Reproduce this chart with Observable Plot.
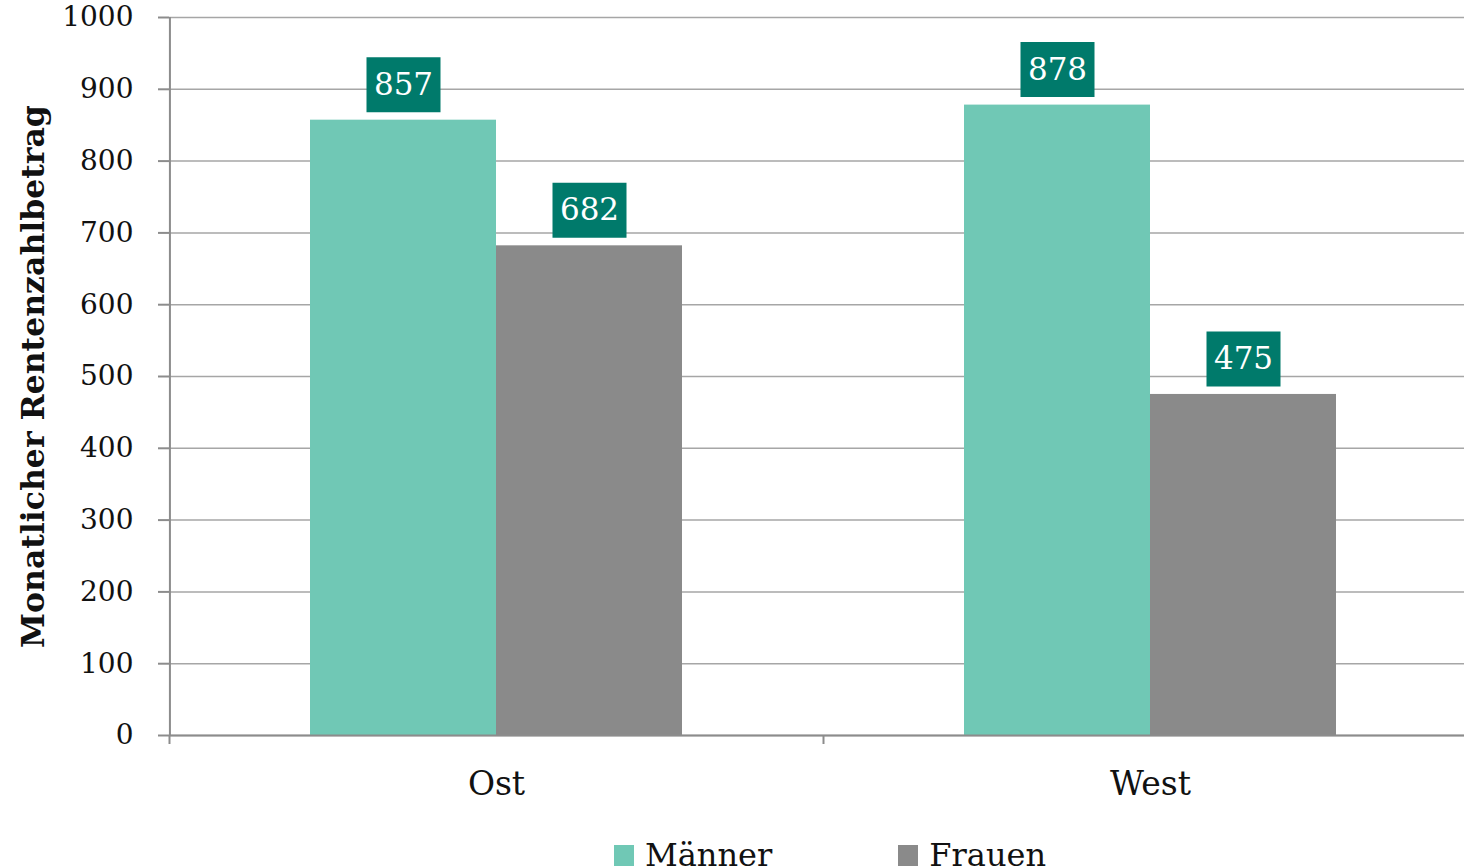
<!DOCTYPE html>
<html>
<head>
<meta charset="utf-8">
<script src="https://cdn.jsdelivr.net/npm/d3@7"></script>
<script src="https://cdn.jsdelivr.net/npm/@observablehq/plot@0.6"></script>
<style>
  html, body { margin: 0; padding: 0; background: #fff; overflow: hidden; }
  #chart svg { display: block; max-width: none; }
  .legend { height: 53px; overflow: hidden; padding-left: 614px; padding-top: 21px; box-sizing: border-box;
            font-family: "DejaVu Serif", serif; font-size: 32px; line-height: 38px; color: #111; white-space: nowrap; }
  .legend .item { display: inline-block; }
  .legend .item + .item { margin-left: 126px; }
  .legend .sw { display: inline-block; width: 20px; height: 21px; margin-right: 11px; vertical-align: baseline; }
</style>
</head>
<body>
<div id="chart"></div>
<div class="legend" id="legend"></div>
<script>
const categories = ["Ost", "West"];
const series = ["Männer", "Frauen"];
const maenner = [857, 878];
const frauen = [682, 475];
const yTicks = [0, 100, 200, 300, 400, 500, 600, 700, 800, 900, 1000];
const colors = ["#70c8b5", "#8a8a8a"];
const labelBoxColor = "#007a6b";
const yTitle = "Monatlicher Rentenzahlbetrag";

const data = categories.flatMap((c, i) => [
  {cat: c, s: series[0], v: maenner[i]},
  {cat: c, s: series[1], v: frauen[i]}
]);

const W = 1464, H = 815, mL = 169, mR = -13, mT = 17, mB = 80;
const padOuter = 0.75;
const facetW = (W - mL - mR) / categories.length;
const step = facetW / (series.length + 2 * padOuter);
// offset from the first band's centre back to the facet's left edge
const edgeOffset = -(padOuter + 0.5) * step;

const boxSymbol = {
  draw(ctx) { ctx.moveTo(-37, -27.5); ctx.lineTo(37, -27.5); ctx.lineTo(37, 27.5); ctx.lineTo(-37, 27.5); ctx.closePath(); }
};

const plot = Plot.plot({
  width: W, height: H,
  marginTop: mT, marginBottom: mB, marginLeft: mL, marginRight: mR,
  style: {fontFamily: "DejaVu Serif, serif", background: "white", color: "#111"},
  fx: {domain: categories, padding: 0, label: null},
  x: {domain: series, paddingInner: 0, paddingOuter: padOuter, axis: null},
  y: {domain: [0, 1000]},
  color: {domain: series, range: colors},
  marks: [
    Plot.gridY(yTicks, {stroke: "#a6a6a6", strokeOpacity: 1, strokeWidth: 1.5}),
    Plot.barY(data, {fx: "cat", x: "s", y: "v", fill: "s"}),
    Plot.ruleY([0], {stroke: "#8c8c8c", strokeWidth: 2}),
    Plot.ruleX([{cat: categories[0], s: series[0]}], {fx: "cat", x: "s", y1: () => 0, y2: () => 1000, dx: edgeOffset, stroke: "#8c8c8c", strokeWidth: 2}),
    Plot.axisY(yTicks, {tickSize: 11, tickPadding: 25, fontSize: 28, stroke: "#8c8c8c", strokeWidth: 2, fill: "#111", label: null, tickFormat: d => String(d)}),
    Plot.axisFx({anchor: "bottom", tickSize: 0, tickPadding: 36, fontSize: 33, label: null, fill: "#111"}),
    Plot.axisFx({anchor: "bottom", tickSize: 9, tickFormat: () => "", label: null, stroke: "#8c8c8c", strokeWidth: 2, dx: -facetW / 2}),
    Plot.dot(data, {fx: "cat", x: "s", y: "v", symbol: boxSymbol, fill: labelBoxColor, stroke: null, r: 10, dy: -35.5}),
    Plot.text(data, {fx: "cat", x: "s", y: "v", text: d => String(d.v), dy: -35.5, fill: "white", fontSize: 31}),
    Plot.text([{cat: categories[0], t: yTitle}], {fx: "cat", text: "t", frameAnchor: "left", textAnchor: "middle", rotate: -90, dx: -136, fontWeight: "bold", fontSize: 31.5, fill: "#111"})
  ]
});
document.getElementById("chart").appendChild(plot);

const legend = document.getElementById("legend");
series.forEach((s, i) => {
  const item = document.createElement("span");
  item.className = "item";
  const sw = document.createElement("span");
  sw.className = "sw";
  sw.style.background = colors[i];
  item.appendChild(sw);
  item.appendChild(document.createTextNode(s));
  legend.appendChild(item);
});
</script>
</body>
</html>
